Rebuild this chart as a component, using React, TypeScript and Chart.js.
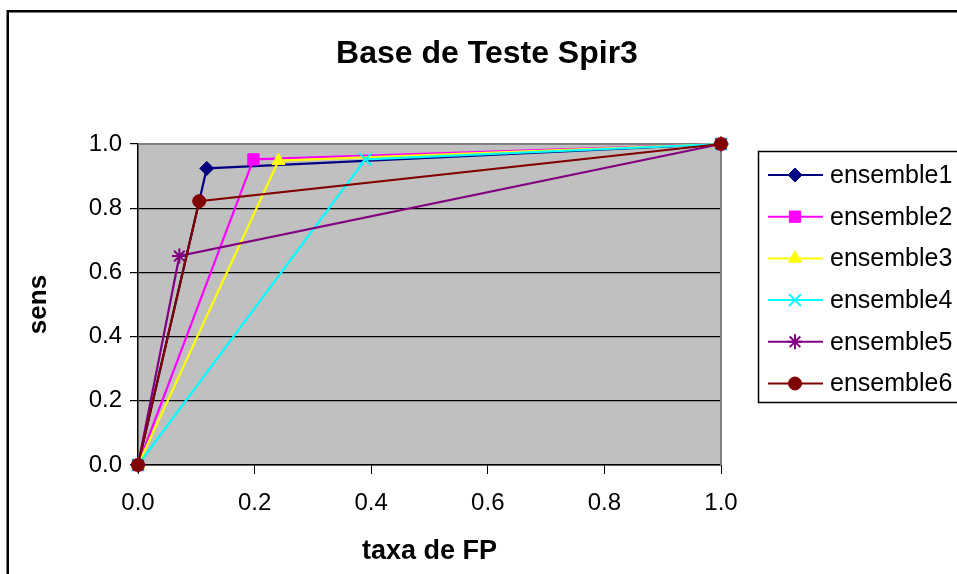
import React, { useEffect, useRef } from "react";
import { Chart, registerables } from "chart.js";
import { drawPoint } from "chart.js/helpers";

Chart.register(...registerables);

const TITLE = "Base de Teste Spir3";
const X_TITLE = "taxa de FP";
const Y_TITLE = "sens";

const seriesNames = ["ensemble1", "ensemble2", "ensemble3", "ensemble4", "ensemble5", "ensemble6"];
const seriesColors = ["#000080", "#FF00FF", "#FFFF00", "#00FFFF", "#800080", "#800000"];
const seriesMarkers = ["rectRot", "rect", "triangle", "crossRot", "star", "circle"];
const markerRadius = [7, 8, 7.5, 8.5, 7.5, 6.5];

// false-positive rate (x) and sensitivity (y) for each ensemble
const fpr1 = [0, 0.118, 1];
const sens1 = [0, 0.924, 1];
const fpr2 = [0, 0.198, 1];
const sens2 = [0, 0.952, 1];
const fpr3 = [0, 0.241, 1];
const sens3 = [0, 0.948, 1];
const fpr4 = [0, 0.39, 1];
const sens4 = [0, 0.952, 1];
const fpr5 = [0, 0.071, 1];
const sens5 = [0, 0.651, 1];
const fpr6 = [0, 0.105, 1];
const sens6 = [0, 0.822, 1];

const xs = [fpr1, fpr2, fpr3, fpr4, fpr5, fpr6];
const ys = [sens1, sens2, sens3, sens4, sens5, sens6];

const xTicks = [0, 0.2, 0.4, 0.6, 0.8, 1.0];
const yTicks = [0, 0.2, 0.4, 0.6, 0.8, 1.0];

const FONT = "'Liberation Sans', Arial, sans-serif";

export default function App() {
  const ref = useRef<HTMLCanvasElement | null>(null);

  useEffect(() => {
    if (!ref.current) return;

    const frameAndTitle = {
      id: "frameAndTitle",
      beforeDraw(chart: any) {
        const { ctx, chartArea } = chart;
        ctx.save();
        ctx.fillStyle = "#ffffff";
        ctx.fillRect(0, 0, chart.width, chart.height);
        // outer frame
        ctx.strokeStyle = "#000";
        ctx.lineWidth = 2.5;
        ctx.strokeRect(7.75, 11.25, 1200, 1200);
        // plot area background
        ctx.fillStyle = "#C0C0C0";
        ctx.fillRect(chartArea.left, chartArea.top, chartArea.right - chartArea.left, chartArea.bottom - chartArea.top);
        // title
        ctx.fillStyle = "#000";
        ctx.font = `bold 32px ${FONT}`;
        ctx.textAlign = "center";
        ctx.textBaseline = "middle";
        ctx.fillText(TITLE, 487, 54);
        ctx.restore();
      },
      beforeDatasetsDraw(chart: any) {
        const { ctx, chartArea } = chart;
        ctx.save();
        ctx.strokeStyle = "#808080";
        ctx.lineWidth = 2;
        ctx.beginPath();
        ctx.moveTo(chartArea.left, chartArea.top);
        ctx.lineTo(chartArea.right, chartArea.top);
        ctx.lineTo(chartArea.right, chartArea.bottom);
        ctx.stroke();
        ctx.restore();
      },
      afterDraw(chart: any) {
        const { ctx } = chart;
        ctx.save();
        ctx.strokeStyle = "#000";
        ctx.lineWidth = 1.5;
        ctx.strokeRect(758.5, 151.5, 400, 251);
        const rowTop = 175;
        const rowGap = 41.7;
        chart.data.datasets.forEach((ds: any, i: number) => {
          const y = rowTop + i * rowGap;
          ctx.strokeStyle = ds.borderColor;
          ctx.lineWidth = 2;
          ctx.beginPath();
          ctx.moveTo(768, y);
          ctx.lineTo(823, y);
          ctx.stroke();
          ctx.fillStyle = ds.pointBackgroundColor;
          ctx.strokeStyle = ds.pointBorderColor;
          ctx.lineWidth = ds.pointBorderWidth;
          drawPoint(ctx, { pointStyle: ds.pointStyle, radius: ds.pointRadius, rotation: 0, borderWidth: ds.pointBorderWidth }, 795, y);
          ctx.fillStyle = "#000";
          ctx.font = `25px ${FONT}`;
          ctx.textAlign = "left";
          ctx.textBaseline = "middle";
          ctx.fillText(ds.label, 830, y + 1);
        });
        ctx.restore();
      },
    };

    const datasets = seriesNames.map((name, i) => ({
      label: name,
      data: xs[i].map((x, j) => ({ x, y: ys[i][j] })),
      borderColor: seriesColors[i],
      backgroundColor: seriesColors[i],
      pointBackgroundColor: seriesColors[i],
      pointBorderColor: seriesColors[i],
      pointBorderWidth: seriesMarkers[i] === "crossRot" || seriesMarkers[i] === "star" ? 2 : 1,
      pointStyle: seriesMarkers[i],
      pointRadius: markerRadius[i],
      borderWidth: 2.2,
      showLine: true,
      tension: 0,
      clip: false as any,
      order: seriesNames.length - i,
    }));

    const chart = new Chart(ref.current, {
      type: "scatter",
      data: { datasets },
      options: {
        responsive: false,
        animation: false,
        devicePixelRatio: 1,
        layout: { padding: { top: 144, right: 236, left: 0, bottom: 0 } },
        plugins: {
          legend: { display: false },
          title: { display: false },
          tooltip: { enabled: false },
        },
        scales: {
          x: {
            type: "linear",
            min: 0,
            max: 1,
            afterFit(scale: any) {
              scale.height = 109;
            },
            afterBuildTicks(scale: any) {
              scale.ticks = xTicks.map((v) => ({ value: v }));
            },
            ticks: {
              color: "#000",
              font: { family: FONT, size: 24 },
              padding: 15,
              maxRotation: 0,
              callback: (v: any) => Number(v).toFixed(1),
            },
            grid: {
              drawOnChartArea: false,
              drawTicks: true,
              tickLength: 9,
              tickColor: "#000",
              color: "#000",
            },
            border: { display: true, color: "#000", width: 1.5 },
            title: {
              display: true,
              text: X_TITLE,
              color: "#000",
              font: { family: FONT, size: 27, weight: "bold" },
              padding: { top: 0, bottom: 6 },
            },
          },
          y: {
            type: "linear",
            min: 0,
            max: 1,
            afterFit(scale: any) {
              scale.width = 138;
            },
            afterBuildTicks(scale: any) {
              scale.ticks = yTicks.map((v) => ({ value: v }));
            },
            ticks: {
              color: "#000",
              font: { family: FONT, size: 24 },
              padding: 8,
              callback: (v: any) => Number(v).toFixed(1),
            },
            grid: {
              drawTicks: true,
              tickLength: 8,
              tickColor: "#000",
              lineWidth: 1.2,
              color: (c: any) => (c.tick && c.tick.value === 1 ? "#808080" : "#000"),
            },
            border: { display: true, color: "#000", width: 1.5 },
            title: {
              display: true,
              text: Y_TITLE,
              color: "#000",
              font: { family: FONT, size: 26, weight: "bold" },
              padding: { top: 23, bottom: 0 },
            },
          },
        },
      },
      plugins: [frameAndTitle],
    });

    return () => chart.destroy();
  }, []);

  return (
    <div style={{ position: "fixed", left: 0, top: 0, width: 957, height: 574, background: "#fff" }}>
      <canvas ref={ref} width={957} height={574} style={{ width: 957, height: 574, display: "block" }} />
    </div>
  );
}
